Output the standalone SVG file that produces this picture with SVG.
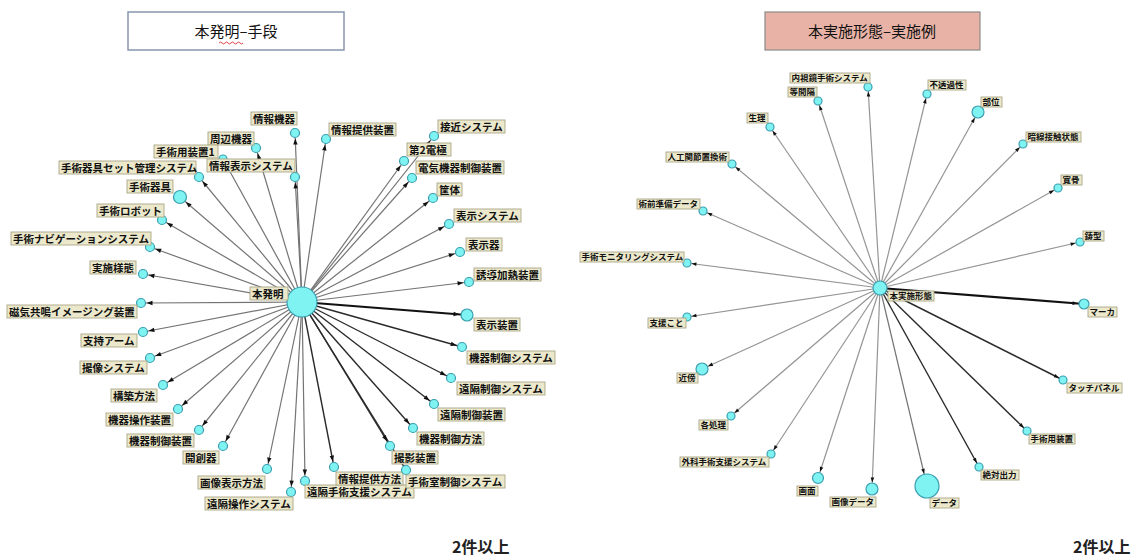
<svg xmlns="http://www.w3.org/2000/svg" width="1140" height="556" viewBox="0 0 1140 556">
<style>
.lb{fill:#ebe8cb;stroke:#aaa686;stroke-width:0.9}
.lt{font-family:"Noto Sans CJK JP","Noto Sans",sans-serif;font-weight:700;font-size:10.5px;fill:#111}
.rt{font-family:"Noto Sans CJK JP","Noto Sans",sans-serif;font-weight:700;font-size:8.5px;fill:#111}
.nd{fill:#7ff2f2;stroke:#3a9fb0;stroke-width:1.2}
.e{stroke:#747474;stroke-width:1.2;fill:none}
.ed{stroke:#2a2a2a;stroke-width:1.4;fill:none}
.eb{stroke:#111;stroke-width:2.2;fill:none}
.er{stroke:#959595;stroke-width:1.2;fill:none}
.title{font-family:"Noto Sans CJK JP","Noto Sans",sans-serif;font-size:15px;fill:#111}
.cnt{font-family:"Noto Sans CJK JP","Noto Sans",sans-serif;font-weight:700;font-size:16px;fill:#222}
</style>
<defs>
<marker id="m5" viewBox="0 -4 30 8" refX="30" refY="0" markerWidth="30" markerHeight="8" markerUnits="userSpaceOnUse" orient="auto"><path d="M18.5,-2.2 L24.5,0 L18.5,2.2z" fill="#111"/></marker>
<marker id="m7" viewBox="0 -4 30 8" refX="30" refY="0" markerWidth="30" markerHeight="8" markerUnits="userSpaceOnUse" orient="auto"><path d="M16.5,-2.2 L22.5,0 L16.5,2.2z" fill="#111"/></marker>
<marker id="m4" viewBox="0 -4 30 8" refX="30" refY="0" markerWidth="30" markerHeight="8" markerUnits="userSpaceOnUse" orient="auto"><path d="M20.5,-1.8 L25.5,0 L20.5,1.8z" fill="#111"/></marker>
<marker id="m6" viewBox="0 -4 30 8" refX="30" refY="0" markerWidth="30" markerHeight="8" markerUnits="userSpaceOnUse" orient="auto"><path d="M18.5,-1.8 L23.5,0 L18.5,1.8z" fill="#111"/></marker>
<marker id="m12" viewBox="0 -4 30 8" refX="30" refY="0" markerWidth="30" markerHeight="8" markerUnits="userSpaceOnUse" orient="auto"><path d="M12.5,-1.8 L17.5,0 L12.5,1.8z" fill="#111"/></marker>
</defs>
<rect width="1140" height="556" fill="#fff"/>

<g id="title-left">
<rect x="128" y="12" width="216" height="38" fill="#fff" stroke="#8797ab" stroke-width="1.5"/>
<text class="title" x="236" y="37" text-anchor="middle">本発明–手段</text>
<path d="M219,43 q1.5,-2 3,0 t3,0 t3,0 t3,0 t3,0 t3,0 t3,0 t3,0" fill="none" stroke="#e03030" stroke-width="0.9"/>
</g>
<g id="title-right">
<rect x="765" y="12" width="215" height="38" fill="#e8b3a6" stroke="#8a8a8a" stroke-width="1.2"/>
<text class="title" x="872" y="37" text-anchor="middle">本実施形態–実施例</text>
</g>

<g id="connectors">
<line class="e" x1="302" y1="302" x2="295" y2="133" marker-end="url(#m5)"/>
<line class="e" x1="302" y1="302" x2="256" y2="148" marker-end="url(#m5)"/>
<line class="e" x1="302" y1="302" x2="223" y2="159" marker-end="url(#m5)"/>
<line class="e" x1="302" y1="302" x2="295" y2="177" marker-end="url(#m5)"/>
<line class="e" x1="302" y1="302" x2="199" y2="177" marker-end="url(#m5)"/>
<line class="e" x1="302" y1="302" x2="180" y2="197" marker-end="url(#m7)"/>
<line class="e" x1="302" y1="302" x2="162" y2="220" marker-end="url(#m5)"/>
<line class="e" x1="302" y1="302" x2="150" y2="247" marker-end="url(#m5)"/>
<line class="e" x1="302" y1="302" x2="143" y2="274" marker-end="url(#m5)"/>
<line class="e" x1="302" y1="302" x2="141" y2="303" marker-end="url(#m5)"/>
<line class="e" x1="302" y1="302" x2="143" y2="332" marker-end="url(#m5)"/>
<line class="e" x1="302" y1="302" x2="150" y2="358" marker-end="url(#m5)"/>
<line class="e" x1="302" y1="302" x2="163" y2="385" marker-end="url(#m5)"/>
<line class="e" x1="302" y1="302" x2="178" y2="409" marker-end="url(#m5)"/>
<line class="e" x1="302" y1="302" x2="199" y2="430" marker-end="url(#m5)"/>
<line class="e" x1="302" y1="302" x2="223" y2="446" marker-end="url(#m5)"/>
<line class="e" x1="302" y1="302" x2="267" y2="469" marker-end="url(#m5)"/>
<line class="e" x1="302" y1="302" x2="291" y2="492" marker-end="url(#m5)"/>
<line class="e" x1="302" y1="302" x2="305" y2="481" marker-end="url(#m5)"/>
<line class="ed" x1="302" y1="302" x2="334" y2="467" marker-end="url(#m5)"/>
<line class="ed" x1="302" y1="302" x2="406" y2="470" marker-end="url(#m5)"/>
<line class="ed" x1="302" y1="302" x2="390" y2="446" marker-end="url(#m5)"/>
<line class="ed" x1="302" y1="302" x2="413" y2="428" marker-end="url(#m5)"/>
<line class="ed" x1="302" y1="302" x2="434" y2="404" marker-end="url(#m5)"/>
<line class="ed" x1="302" y1="302" x2="451" y2="378" marker-end="url(#m5)"/>
<line class="ed" x1="302" y1="302" x2="462" y2="347" marker-end="url(#m5)"/>
<line class="eb" x1="302" y1="302" x2="467" y2="315" marker-end="url(#m7)"/>
<line class="e" x1="302" y1="302" x2="469" y2="282" marker-end="url(#m5)"/>
<line class="e" x1="302" y1="302" x2="460" y2="252" marker-end="url(#m5)"/>
<line class="e" x1="302" y1="302" x2="449" y2="224" marker-end="url(#m5)"/>
<line class="e" x1="302" y1="302" x2="433" y2="198" marker-end="url(#m5)"/>
<line class="e" x1="302" y1="302" x2="412" y2="178" marker-end="url(#m5)"/>
<line class="e" x1="302" y1="302" x2="404" y2="161" marker-end="url(#m5)"/>
<line class="e" x1="302" y1="302" x2="434" y2="136" marker-end="url(#m5)"/>
<line class="e" x1="302" y1="302" x2="326" y2="139" marker-end="url(#m5)"/>

<line class="er" x1="880" y1="288" x2="868" y2="87" marker-end="url(#m4)"/>
<line class="er" x1="880" y1="288" x2="818" y2="101" marker-end="url(#m4)"/>
<line class="er" x1="880" y1="288" x2="927" y2="94" marker-end="url(#m4)"/>
<line class="er" x1="880" y1="288" x2="978" y2="112" marker-end="url(#m6)"/>
<line class="er" x1="880" y1="288" x2="1023" y2="144" marker-end="url(#m4)"/>
<line class="er" x1="880" y1="288" x2="1058" y2="188" marker-end="url(#m4)"/>
<line class="er" x1="880" y1="288" x2="1080" y2="242" marker-end="url(#m4)"/>
<line class="eb" x1="880" y1="288" x2="1084" y2="304" marker-end="url(#m6)"/>
<line class="ed" x1="880" y1="288" x2="1063" y2="380" marker-end="url(#m4)"/>
<line class="ed" x1="880" y1="288" x2="1027" y2="431" marker-end="url(#m4)"/>
<line class="ed" x1="880" y1="288" x2="979" y2="467" marker-end="url(#m4)"/>
<line class="e" x1="880" y1="288" x2="927" y2="486" marker-end="url(#m12)"/>
<line class="er" x1="880" y1="288" x2="872" y2="489" marker-end="url(#m6)"/>
<line class="er" x1="880" y1="288" x2="818" y2="478" marker-end="url(#m6)"/>
<line class="er" x1="880" y1="288" x2="771" y2="454" marker-end="url(#m4)"/>
<line class="er" x1="880" y1="288" x2="731" y2="416" marker-end="url(#m4)"/>
<line class="er" x1="880" y1="288" x2="702" y2="369" marker-end="url(#m6)"/>
<line class="er" x1="880" y1="288" x2="687" y2="317" marker-end="url(#m4)"/>
<line class="er" x1="880" y1="288" x2="687" y2="263" marker-end="url(#m4)"/>
<line class="er" x1="880" y1="288" x2="703" y2="211" marker-end="url(#m4)"/>
<line class="er" x1="880" y1="288" x2="732" y2="164" marker-end="url(#m4)"/>
<line class="er" x1="880" y1="288" x2="770" y2="127" marker-end="url(#m4)"/>
</g>

<g id="n-honhatsumei"><circle class="nd" cx="302" cy="302" r="15"/><rect class="lb" x="250" y="287" width="38" height="13"/><text class="lt" x="252" y="297.5">本発明</text></g>
<g id="n-jouhoukiki"><circle class="nd" cx="295" cy="133" r="4.5"/><rect class="lb" x="251" y="112" width="46" height="13"/><text class="lt" x="253" y="122.5">情報機器</text></g>
<g id="n-shuuhenkiki"><circle class="nd" cx="256" cy="148" r="4.5"/><rect class="lb" x="208" y="132" width="46" height="13"/><text class="lt" x="210" y="142.5">周辺機器</text></g>
<g id="n-shujutsuyousouchi1"><circle class="nd" cx="223" cy="159" r="4"/><rect class="lb" x="154" y="145" width="64" height="13"/><text class="lt" x="156" y="155.5">手術用装置1</text></g>
<g id="n-jouhouhyouji"><circle class="nd" cx="295" cy="177" r="4.5"/><rect class="lb" x="207" y="159" width="88" height="13"/><text class="lt" x="209" y="169.5">情報表示システム</text></g>
<g id="n-kigusetto"><circle class="nd" cx="199" cy="177" r="4.5"/><rect class="lb" x="59" y="161" width="137" height="13"/><text class="lt" x="61" y="171.5">手術器具セット管理システム</text></g>
<g id="n-shujutsukigu"><circle class="nd" cx="180" cy="197" r="6.5"/><rect class="lb" x="127" y="180" width="46" height="13"/><text class="lt" x="129" y="190.5">手術器具</text></g>
<g id="n-robot"><circle class="nd" cx="162" cy="220" r="4.5"/><rect class="lb" x="97" y="204" width="67" height="13"/><text class="lt" x="99" y="214.5">手術ロボット</text></g>
<g id="n-navi"><circle class="nd" cx="150" cy="247" r="4.5"/><rect class="lb" x="11" y="232" width="140" height="13"/><text class="lt" x="13" y="242.5">手術ナビゲーションシステム</text></g>
<g id="n-jisshiyoutai"><circle class="nd" cx="143" cy="274" r="4.5"/><rect class="lb" x="90" y="261" width="46" height="13"/><text class="lt" x="92" y="271.5">実施様態</text></g>
<g id="n-mri"><circle class="nd" cx="141" cy="303" r="4.5"/><rect class="lb" x="7" y="305" width="130" height="13"/><text class="lt" x="9" y="315.5">磁気共鳴イメージング装置</text></g>
<g id="n-arm"><circle class="nd" cx="143" cy="332" r="4.5"/><rect class="lb" x="81" y="334" width="56" height="13"/><text class="lt" x="83" y="344.5">支持アーム</text></g>
<g id="n-satsuzou"><circle class="nd" cx="150" cy="358" r="4.5"/><rect class="lb" x="80" y="361" width="67" height="13"/><text class="lt" x="82" y="371.5">撮像システム</text></g>
<g id="n-kouchiku"><circle class="nd" cx="163" cy="385" r="4.5"/><rect class="lb" x="111" y="389" width="46" height="13"/><text class="lt" x="113" y="399.5">構築方法</text></g>
<g id="n-kikisousa"><circle class="nd" cx="178" cy="409" r="4.5"/><rect class="lb" x="106" y="413" width="67" height="13"/><text class="lt" x="108" y="423.5">機器操作装置</text></g>
<g id="n-kikiseigyosouchi"><circle class="nd" cx="199" cy="430" r="4.5"/><rect class="lb" x="127" y="434" width="67" height="13"/><text class="lt" x="129" y="444.5">機器制御装置</text></g>
<g id="n-kaisouki"><circle class="nd" cx="223" cy="446" r="4.5"/><rect class="lb" x="183" y="451" width="36" height="13"/><text class="lt" x="185" y="461.5">開創器</text></g>
<g id="n-gazouhyouji"><circle class="nd" cx="267" cy="469" r="4.5"/><rect class="lb" x="198" y="476" width="67" height="13"/><text class="lt" x="200" y="486.5">画像表示方法</text></g>
<g id="n-enkakusousa"><circle class="nd" cx="291" cy="492" r="4.5"/><rect class="lb" x="205" y="497" width="88" height="13"/><text class="lt" x="207" y="507.5">遠隔操作システム</text></g>
<g id="n-enkakushien"><circle class="nd" cx="305" cy="481" r="4.5"/><rect class="lb" x="305" y="485" width="109" height="13"/><text class="lt" x="307" y="495.5">遠隔手術支援システム</text></g>
<g id="n-jouhouteikyouhouhou"><circle class="nd" cx="334" cy="467" r="4.5"/><rect class="lb" x="336" y="472" width="67" height="13"/><text class="lt" x="338" y="482.5">情報提供方法</text></g>
<g id="n-shujutsushitsu"><circle class="nd" cx="406" cy="470" r="4.5"/><rect class="lb" x="406" y="475" width="99" height="13"/><text class="lt" x="408" y="485.5">手術室制御システム</text></g>
<g id="n-satsuei"><circle class="nd" cx="390" cy="446" r="4.5"/><rect class="lb" x="392" y="451" width="46" height="13"/><text class="lt" x="394" y="461.5">撮影装置</text></g>
<g id="n-kikiseigyohouhou"><circle class="nd" cx="413" cy="428" r="4.5"/><rect class="lb" x="417" y="432" width="67" height="13"/><text class="lt" x="419" y="442.5">機器制御方法</text></g>
<g id="n-enkakuseigyosouchi"><circle class="nd" cx="434" cy="404" r="4.5"/><rect class="lb" x="438" y="408" width="67" height="13"/><text class="lt" x="440" y="418.5">遠隔制御装置</text></g>
<g id="n-enkakuseigyosys"><circle class="nd" cx="451" cy="378" r="4.5"/><rect class="lb" x="457" y="382" width="88" height="13"/><text class="lt" x="459" y="392.5">遠隔制御システム</text></g>
<g id="n-kikiseigyosys"><circle class="nd" cx="462" cy="347" r="4.5"/><rect class="lb" x="467" y="351" width="88" height="13"/><text class="lt" x="469" y="361.5">機器制御システム</text></g>
<g id="n-hyoujisouchi"><circle class="nd" cx="467" cy="315" r="6"/><rect class="lb" x="474" y="318" width="46" height="13"/><text class="lt" x="476" y="328.5">表示装置</text></g>
<g id="n-yuudou"><circle class="nd" cx="469" cy="282" r="4.5"/><rect class="lb" x="474" y="268" width="67" height="13"/><text class="lt" x="476" y="278.5">誘導加熱装置</text></g>
<g id="n-hyoujiki"><circle class="nd" cx="460" cy="252" r="4.5"/><rect class="lb" x="466" y="238" width="36" height="13"/><text class="lt" x="468" y="248.5">表示器</text></g>
<g id="n-hyoujisys"><circle class="nd" cx="449" cy="224" r="4.5"/><rect class="lb" x="454" y="209" width="67" height="13"/><text class="lt" x="456" y="219.5">表示システム</text></g>
<g id="n-kyoutai"><circle class="nd" cx="433" cy="198" r="4.5"/><rect class="lb" x="437" y="183" width="25" height="13"/><text class="lt" x="439" y="193.5">筐体</text></g>
<g id="n-denkikiki"><circle class="nd" cx="412" cy="178" r="4.5"/><rect class="lb" x="416" y="161" width="88" height="13"/><text class="lt" x="418" y="171.5">電気機器制御装置</text></g>
<g id="n-dai2denkyoku"><circle class="nd" cx="404" cy="161" r="4.5"/><rect class="lb" x="407" y="143" width="44" height="13"/><text class="lt" x="409" y="153.5">第2電極</text></g>
<g id="n-sekkin"><circle class="nd" cx="434" cy="136" r="4.5"/><rect class="lb" x="438" y="120" width="67" height="13"/><text class="lt" x="440" y="130.5">接近システム</text></g>
<g id="n-jouhouteikyousouchi"><circle class="nd" cx="326" cy="139" r="4.5"/><rect class="lb" x="329" y="123" width="67" height="13"/><text class="lt" x="331" y="133.5">情報提供装置</text></g>

<g id="r-center"><circle class="nd" cx="880" cy="288" r="7"/><rect class="lb" x="888" y="291" width="46" height="10"/><text class="rt" x="889.5" y="299">本実施形態</text></g>
<g id="r-naishikyou"><circle class="nd" cx="868" cy="87" r="4"/><rect class="lb" x="790" y="73" width="80" height="10"/><text class="rt" x="791.5" y="81">内視鏡手術システム</text></g>
<g id="r-toukankaku"><circle class="nd" cx="818" cy="101" r="4"/><rect class="lb" x="788" y="87" width="29" height="10"/><text class="rt" x="789.5" y="95">等間隔</text></g>
<g id="r-futoukasei"><circle class="nd" cx="927" cy="94" r="4"/><rect class="lb" x="928" y="80" width="38" height="10"/><text class="rt" x="929.5" y="88">不透過性</text></g>
<g id="r-bui"><circle class="nd" cx="978" cy="112" r="6"/><rect class="lb" x="981" y="97" width="21" height="10"/><text class="rt" x="982.5" y="105">部位</text></g>
<g id="r-sessyoku"><circle class="nd" cx="1023" cy="144" r="4"/><rect class="lb" x="1026" y="132" width="55" height="10"/><text class="rt" x="1027.5" y="140">暗線接触状態</text></g>
<g id="r-kankotsu"><circle class="nd" cx="1058" cy="188" r="4"/><rect class="lb" x="1061" y="175" width="21" height="10"/><text class="rt" x="1062.5" y="183">寛骨</text></g>
<g id="r-igata"><circle class="nd" cx="1080" cy="242" r="4"/><rect class="lb" x="1083" y="231" width="21" height="10"/><text class="rt" x="1084.5" y="239">鋳型</text></g>
<g id="r-marker"><circle class="nd" cx="1084" cy="304" r="5"/><rect class="lb" x="1088" y="307" width="29" height="10"/><text class="rt" x="1089.5" y="315">マーカ</text></g>
<g id="r-touch"><circle class="nd" cx="1063" cy="380" r="4"/><rect class="lb" x="1067" y="383" width="55" height="10"/><text class="rt" x="1068.5" y="391">タッチパネル</text></g>
<g id="r-souchi"><circle class="nd" cx="1027" cy="431" r="4"/><rect class="lb" x="1029" y="434" width="46" height="10"/><text class="rt" x="1030.5" y="442">手術用装置</text></g>
<g id="r-zettai"><circle class="nd" cx="979" cy="467" r="4"/><rect class="lb" x="981" y="470" width="38" height="10"/><text class="rt" x="982.5" y="478">絶対出力</text></g>
<g id="r-data"><circle class="nd" cx="927" cy="486" r="12"/><rect class="lb" x="930" y="498" width="29" height="10"/><text class="rt" x="931.5" y="506">データ</text></g>
<g id="r-gazoudata"><circle class="nd" cx="872" cy="489" r="6"/><rect class="lb" x="830" y="497" width="46" height="10"/><text class="rt" x="831.5" y="505">画像データ</text></g>
<g id="r-gamen"><circle class="nd" cx="818" cy="478" r="5.5"/><rect class="lb" x="797" y="486" width="21" height="10"/><text class="rt" x="798.5" y="494">画面</text></g>
<g id="r-geka"><circle class="nd" cx="771" cy="454" r="4"/><rect class="lb" x="680" y="457" width="89" height="10"/><text class="rt" x="681.5" y="465">外科手術支援システム</text></g>
<g id="r-kakushori"><circle class="nd" cx="731" cy="416" r="4"/><rect class="lb" x="699" y="420" width="29" height="10"/><text class="rt" x="700.5" y="428">各処理</text></g>
<g id="r-kinbou"><circle class="nd" cx="702" cy="369" r="6"/><rect class="lb" x="677" y="373" width="21" height="10"/><text class="rt" x="678.5" y="381">近傍</text></g>
<g id="r-shienkoto"><circle class="nd" cx="687" cy="317" r="4"/><rect class="lb" x="648" y="318" width="38" height="10"/><text class="rt" x="649.5" y="326">支援こと</text></g>
<g id="r-monitoring"><circle class="nd" cx="687" cy="263" r="4"/><rect class="lb" x="580" y="252" width="104" height="10"/><text class="rt" x="581.5" y="260">手術モニタリングシステム</text></g>
<g id="r-jutsuzen"><circle class="nd" cx="703" cy="211" r="4"/><rect class="lb" x="637" y="199" width="63" height="10"/><text class="rt" x="638.5" y="207">術前準備データ</text></g>
<g id="r-jinkou"><circle class="nd" cx="732" cy="164" r="4"/><rect class="lb" x="666" y="152" width="63" height="10"/><text class="rt" x="667.5" y="160">人工関節置換術</text></g>
<g id="r-seiri"><circle class="nd" cx="770" cy="127" r="4"/><rect class="lb" x="747" y="113" width="21" height="10"/><text class="rt" x="748.5" y="121">生理</text></g>

<text class="cnt" x="452" y="553">2件以上</text>
<text class="cnt" x="1073" y="553">2件以上</text>
</svg>
